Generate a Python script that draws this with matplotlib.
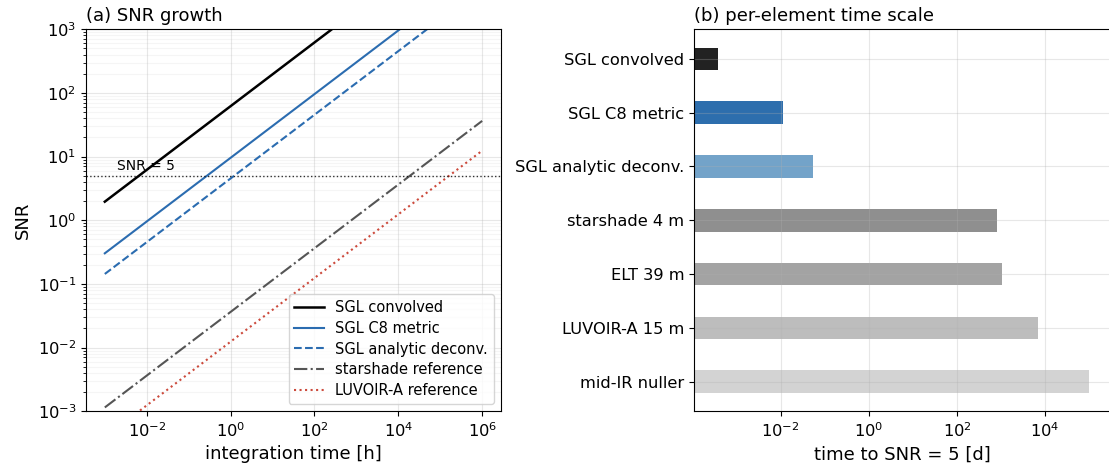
import matplotlib
matplotlib.use('Agg')
import matplotlib.pyplot as plt
from matplotlib.ticker import NullLocator, LogLocator


# SNR growth curves: SNR at t = 1e-3 h and t = 1e6 h (straight lines in log-log)
t_ends_h = [1e-3, 1e6]
snr_sgl_conv = [1.96, 6.2e4]
snr_sgl_c8 = [0.303, 9.58e3]
snr_sgl_deconv = [0.1435, 4.54e3]
snr_starshade = [1.15e-3, 36.4]
snr_luvoir = [3.92e-4, 12.4]
snr_threshold = 5

# time to reach SNR = 5, in days
bar_labels = ['SGL convolved', 'SGL C8 metric', 'SGL analytic deconv.',
              'starshade 4 m', 'ELT 39 m', 'LUVOIR-A 15 m', 'mid-IR nuller']
t_snr5_days = [2.84e-4, 0.011, 0.053, 832, 1030, 7080, 1.0e5]
bar_colors = ['#222222', '#2d6ead', '#73a3c9', '#8f8f8f', '#a3a3a3', '#bdbdbd', '#d3d3d3']

blue = '#2b6cb0'
tick_fs = 11.7

fig = plt.figure(figsize=(11.09, 4.72), dpi=100)
ax1 = fig.add_axes([0.0775, 0.1286, 0.3743, 0.8094])
ax2 = fig.add_axes([0.626, 0.1286, 0.376, 0.8094])

# (a) SNR vs integration time
ax1.plot(t_ends_h, snr_sgl_conv, color='black', lw=1.8, label='SGL convolved')
ax1.plot(t_ends_h, snr_sgl_c8, color=blue, lw=1.5, label='SGL C8 metric')
ax1.plot(t_ends_h, snr_sgl_deconv, color=blue, lw=1.5, ls='--', label='SGL analytic deconv.')
ax1.plot(t_ends_h, snr_starshade, color='#555555', lw=1.5, ls='-.', label='starshade reference')
ax1.plot(t_ends_h, snr_luvoir, color='#cc4a3c', lw=1.5, ls=':', label='LUVOIR-A reference')
ax1.axhline(snr_threshold, color='black', lw=1, ls=':', alpha=0.8)
ax1.text(2e-3, 5.6, 'SNR = 5', fontsize=10, va='bottom')

ax1.set_xscale('log')
ax1.set_yscale('log')
ax1.set_xlim(10**-3.45, 10**6.45)
ax1.set_ylim(1e-3, 1e3)
ax1.xaxis.set_minor_locator(NullLocator())
ax1.yaxis.set_minor_locator(LogLocator(subs=range(2, 10)))
ax1.grid(True, which='major', alpha=0.3)
ax1.grid(True, which='minor', axis='y', alpha=0.12)
ax1.tick_params(labelsize=tick_fs)
ax1.set_xlabel('integration time [h]', fontsize=13)
ax1.set_ylabel('SNR', fontsize=13)
ax1.set_title('(a) SNR growth', loc='left', fontsize=13)
ax1.legend(loc='lower right', fontsize=10.5, labelspacing=0.4)

# (b) time to SNR = 5 per element
ypos = list(range(len(bar_labels)))
ax2.barh(ypos, t_snr5_days, left=1e-4, height=0.42, color=bar_colors)
ax2.set_xscale('log')
ax2.set_xlim(1.1e-4, 10**5.5)
ax2.set_ylim(6.55, -0.55)
ax2.set_yticks(ypos)
ax2.set_yticklabels(bar_labels)
ax2.xaxis.set_minor_locator(NullLocator())
ax2.grid(True, alpha=0.3)
ax2.tick_params(labelsize=tick_fs)
ax2.set_xlabel('time to SNR = 5 [d]', fontsize=13)
ax2.set_title('(b) per-element time scale', loc='left', fontsize=13)

plt.savefig('out.png', dpi=100)
